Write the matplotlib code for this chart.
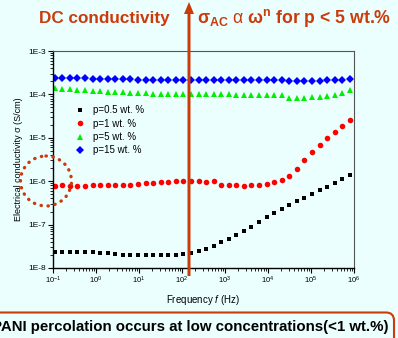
import numpy as np
import matplotlib
matplotlib.use('Agg')
import matplotlib.pyplot as plt
from matplotlib.patches import Ellipse, FancyBboxPatch
from matplotlib.ticker import FixedLocator, LogLocator, NullFormatter, FuncFormatter

plt.rcParams['font.family'] = ['Liberation Sans', 'DejaVu Sans']
plt.rcParams['mathtext.fontset'] = 'custom'
plt.rcParams['mathtext.rm'] = 'Liberation Sans'
plt.rcParams['mathtext.it'] = 'Liberation Sans:italic'
plt.rcParams['mathtext.bf'] = 'Liberation Sans:bold'

# frequences (Hz)
freq = [0.110, 0.164, 0.247, 0.370, 0.555, 0.832, 1.25, 1.87, 2.81, 4.21,
        6.31, 9.46, 14.2, 21.3, 31.9, 47.9, 71.8, 108, 161, 242,
        363, 545, 817, 1220, 1840, 2750, 4130, 6190, 9290, 13900,
        20900, 31300, 47000, 70500, 106000, 158000, 238000, 356000, 535000, 802000]

# conductivite (S/cm)
sigma_05 = [2.30e-8, 2.30e-8, 2.30e-8, 2.30e-8, 2.34e-8, 2.30e-8, 2.25e-8, 2.22e-8, 2.14e-8, 2.0e-8,
            2.0e-8, 2.0e-8, 2.0e-8, 2.0e-8, 2.0e-8, 2.0e-8, 2.02e-8, 2.07e-8, 2.18e-8, 2.45e-8,
            2.79e-8, 3.27e-8, 4.03e-8, 4.73e-8, 5.75e-8, 7.0e-8, 8.95e-8, 1.15e-7, 1.47e-7, 1.85e-7,
            2.32e-7, 2.83e-7, 3.44e-7, 4.17e-7, 5.07e-7, 6.17e-7, 7.46e-7, 9.2e-7, 1.12e-6, 1.39e-6]
sigma_1 = [7.87e-7, 8.17e-7, 7.87e-7, 7.87e-7, 7.87e-7, 8.0e-7, 8.3e-7, 8.3e-7, 8.17e-7, 8.17e-7,
           8.3e-7, 8.6e-7, 8.95e-7, 9.1e-7, 9.4e-7, 9.7e-7, 9.95e-7, 9.95e-7, 9.95e-7, 1.0e-6,
           9.7e-7, 1.0e-6, 8.3e-7, 8.3e-7, 8.1e-7, 7.9e-7, 8.1e-7, 8.1e-7, 8.6e-7, 9.6e-7,
           1.07e-6, 1.30e-6, 1.91e-6, 3.03e-6, 4.63e-6, 6.94e-6, 9.7e-6, 1.34e-5, 1.84e-5, 2.53e-5]
sigma_5 = [1.38e-4, 1.33e-4, 1.31e-4, 1.28e-4, 1.26e-4, 1.22e-4, 1.20e-4, 1.15e-4, 1.14e-4, 1.12e-4,
           1.09e-4, 1.08e-4, 1.06e-4, 1.04e-4, 1.04e-4, 1.02e-4, 1.02e-4, 1.02e-4, 1.02e-4, 1.0e-4,
           1.0e-4, 1.0e-4, 1.0e-4, 1.0e-4, 9.8e-5, 9.8e-5, 9.8e-5, 9.8e-5, 9.7e-5, 9.5e-5,
           9.5e-5, 8.4e-5, 8.3e-5, 8.4e-5, 8.6e-5, 8.9e-5, 9.0e-5, 9.7e-5, 1.08e-4, 1.24e-4]
sigma_15 = [2.43e-4, 2.43e-4, 2.39e-4, 2.39e-4, 2.35e-4, 2.30e-4, 2.30e-4, 2.26e-4, 2.26e-4, 2.23e-4,
            2.23e-4, 2.18e-4, 2.18e-4, 2.18e-4, 2.18e-4, 2.18e-4, 2.18e-4, 2.18e-4, 2.18e-4, 2.18e-4,
            2.18e-4, 2.18e-4, 2.18e-4, 2.18e-4, 2.18e-4, 2.18e-4, 2.18e-4, 2.18e-4, 2.18e-4, 2.18e-4,
            2.14e-4, 2.04e-4, 2.04e-4, 2.0e-4, 2.04e-4, 2.07e-4, 2.11e-4, 2.14e-4, 2.14e-4, 2.26e-4]

labels = ['p=0.5 wt. %', 'p=1 wt. %', 'p=5 wt. %', 'p=15 wt. %']
ytick_vals = [1e-8, 1e-7, 1e-6, 1e-5, 1e-4, 1e-3]
xtick_vals = [1e-1, 1e0, 1e1, 1e2, 1e3, 1e4, 1e5, 1e6]

bg = '#ebffff'
orange = '#cc3a0a'

fig = plt.figure(figsize=(3.98, 3.38), dpi=100, facecolor=bg)
ax = fig.add_axes([53/398, 1 - 268/338, 301/398, 217/338], facecolor=bg)

ax.plot(freq, sigma_05, 's', color='black', ms=3.2, mew=0, label=labels[0])
ax.plot(freq, sigma_1, 'o', color='#ff0000', ms=4, mew=0, label=labels[1])
ax.plot(freq, sigma_5, '^', color='#00ee00', ms=4.2, mew=0, label=labels[2])
ax.plot(freq, sigma_15, 'D', color='#0000ff', ms=3.6, mew=0, label=labels[3])

ax.set_xscale('log')
ax.set_yscale('log')
ax.set_xlim(1e-1, 1e6)
ax.set_ylim(1e-8, 1e-3)

ax.yaxis.set_major_locator(FixedLocator(ytick_vals))
ax.yaxis.set_major_formatter(FuncFormatter(lambda v, p: '1E%d' % round(np.log10(v))))
ax.yaxis.set_minor_locator(LogLocator(base=10, subs=np.arange(2, 10), numticks=20))
ax.yaxis.set_minor_formatter(NullFormatter())
ax.xaxis.set_major_locator(FixedLocator(xtick_vals))
ax.xaxis.set_major_formatter(FuncFormatter(lambda v, p: r'$10^{%d}$' % round(np.log10(v))))
ax.xaxis.set_minor_locator(LogLocator(base=10, subs=np.arange(2, 10), numticks=20))
ax.xaxis.set_minor_formatter(NullFormatter())

ax.tick_params(which='major', direction='out', length=3.5, width=0.8, labelsize=5.5, pad=1.5)
ax.tick_params(which='minor', direction='out', length=2, width=0.6)
ax.tick_params(axis='y', labelsize=6)
for s in ['top', 'right']:
    ax.spines[s].set_color('#555555')
ax.spines['left'].set_linewidth(1.0)
ax.spines['bottom'].set_linewidth(1.0)

ax.set_xlabel(r'Frequency $\mathit{f}$ (Hz)', fontsize=7, labelpad=5)
ax.set_ylabel('Electrical conductivity σ (S/cm)', fontsize=6.5, labelpad=4)

ax.legend(loc='upper left', bbox_to_anchor=(0.074, 0.75), frameon=False, fontsize=7,
          handlelength=1, handletextpad=0.8, labelspacing=0.35, borderpad=0, borderaxespad=0)

# calque d'annotations en pixels
ov = fig.add_axes([0, 0, 1, 1], facecolor='none')
ov.set_xlim(0, 398)
ov.set_ylim(338, 0)
ov.axis('off')

ov.arrow(189, 276, 0, -274, width=3, head_width=10, head_length=12,
         length_includes_head=True, color=orange, lw=0)
ov.add_patch(Ellipse((46, 181), 51, 50, fill=False, ec=orange, lw=2.4,
                     linestyle=(0, (0.1, 2.0)), capstyle='round'))
ov.add_patch(FancyBboxPatch((-20, 312.5), 414, 40, boxstyle='round,pad=0,rounding_size=8',
                            fc='none', ec=orange, lw=1.5))

ov.text(39, 23, 'DC conductivity', color=orange, fontsize=12.3, weight='bold', va='baseline')
ov.text(197, 23, r'$\mathbf{\sigma_{AC}}$ $\mathrm{\alpha}$ $\mathbf{\omega^{n}}$ for p < 5 wt.%',
        color=orange, fontsize=12.7, weight='bold', va='baseline')
ov.text(388, 327, 'PANI percolation occurs at low concentrations(<1 wt.%)',
        fontsize=10.8, weight='bold', ha='right', va='center')

fig.savefig('out.png', dpi=100, facecolor=bg)
